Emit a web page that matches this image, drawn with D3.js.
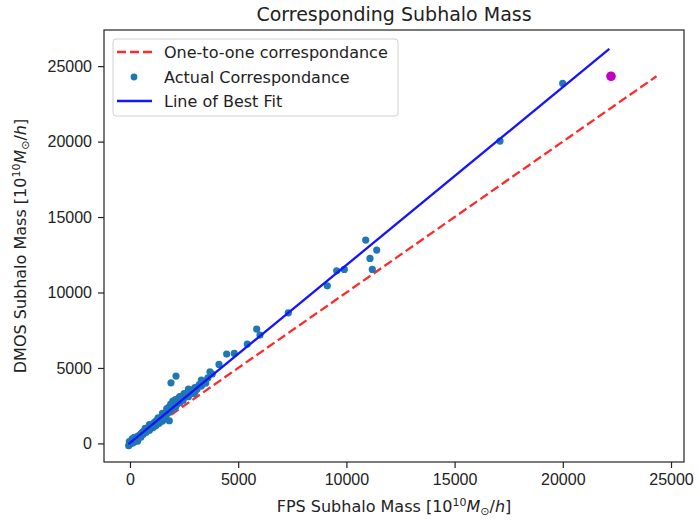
<!DOCTYPE html>
<html>
<head>
<meta charset="utf-8">
<script src="https://d3js.org/d3.v7.min.js"></script>
<style>
  body { margin: 0; background: white; }
  svg { font-family: "DejaVu Sans", sans-serif; }
  .axis text { font-size: 16px; fill: #222; }
  .axis path, .axis line { stroke: #222; stroke-width: 1.2; }
</style>
</head>
<body>
<div id="chart"></div>
<script>
// FPS subhalo mass (x) vs DMOS subhalo mass (y)
var fpsMass = [
  5, 12, 20, 30, 40, 50, 60, 70, 80, 95, 100, 110, 120, 130, 150, 160, 170, 180, 200, 210,
  230, 240, 260, 270, 280, 300, 320, 340, 350, 370, 390, 400, 420, 440, 460, 480, 500,
  -60, -30, 60, 150, 300, 450, 600, 750, 900, 1050, 1200, 1350, 1500, 1650,
  100, 200, 350, 500, 700, 900, 1100, 1300, 1500, 1700, 2100, 2300, 2500, 2700, 3000, 3300,
  520, 550, 580, 600, 630, 650, 680, 700, 720, 750, 780, 800, 830, 860, 880, 900, 930, 960, 980,
  1000, 1030, 1060, 1100, 1120, 1150, 1180, 1200, 1230, 1260, 1300, 1320, 1350, 1380, 1400, 1430,
  1460, 1500,
  1520, 1550, 1580, 1600, 1650, 1680, 1700, 1750, 1780, 1800, 1816, 1850, 1880, 1900, 1950, 1980,
  2000, 2050, 2100, 2150, 2200, 2250, 2300, 2350, 2400, 2450, 2500,
  1895, 2126,
  2600, 2650, 2700, 2800, 2900, 2950, 3000, 3100, 3200, 3300, 3400, 3500, 3600, 3697, 3800,
  4113, 4467, 4820, 5420, 5855, 6007, 7315, 9118, 9552, 9903, 10892, 11091, 11197, 11400,
  17098, 19995
];
var dmosMass = [
  10, 30, -20, 60, 20, 80, 40, 110, 60, 150, 90, 30, 170, 120, 200, 140, 80, 230, 170, 260,
  300, 220, 340, 180, 400, 310, 420, 360, 260, 450, 480, 380, 520, 460, 560, 500, 620,
  -150, 120, 20, 140, 290, 440, 590, 740, 880, 1040, 1180, 1330, 1480, 1640,
  300, 400, 150, 400, 1000, 1250, 1100, 1700, 2000, 2300, 2400, 3100, 3300, 3600, 3400, 4200,
  560, 700, 640, 760, 690, 800, 820, 760, 900, 860, 950, 880, 1010, 980, 1080, 1000, 1120, 1100, 1200,
  1150, 1260, 1220, 1300, 1380, 1340, 1420, 1480, 1400, 1520, 1560, 1480, 1620, 1660, 1580, 1700,
  1750, 1690,
  1800, 1880, 1750, 1950, 2000, 1900, 2100, 2200, 2050, 2400, 1500, 2300, 2600, 2200, 2500, 2800,
  2400, 2650, 2900, 2550, 2750, 3000, 2700, 2900, 3100, 2850, 3050,
  4016, 4460,
  3200, 3350, 3100, 3450, 3550, 3300, 3700, 3600, 3900, 3800, 4100, 4000, 4350, 4745, 4600,
  5235, 5918, 5964, 6580, 7574, 7177, 8655, 10444, 11438, 11530, 13472, 12260, 11530, 12810,
  20033, 23857
];
// the highlighted halo
var highlightX = [22227];
var highlightY = [24330];

var oneToOneX = [-70, 24330];
var oneToOneY = [-70, 24330];
var bestFitX = [-70, 22150];
var bestFitY = [-50, 26140];

var xTicks = [0, 5000, 10000, 15000, 20000, 25000];
var yTicks = [0, 5000, 10000, 15000, 20000, 25000];

var legendLabels = ["One-to-one correspondance", "Actual Correspondance", "Line of Best Fit"];

var W = 699, H = 520;
var margin = { top: 30, right: 15, bottom: 58, left: 104 },
    width = W - margin.left - margin.right,
    height = H - margin.top - margin.bottom;

var x = d3.scaleLinear().domain([-1201, 25600]).range([0, width]);
var y = d3.scaleLinear().domain([-1232, 27395]).range([height, 0]);

var svg = d3.select("#chart").append("svg")
    .attr("width", W)
    .attr("height", H);

var g = svg.append("g")
    .attr("transform", "translate(" + margin.left + "," + margin.top + ")");

var line = d3.line()
    .x(function (d) { return x(d[0]); })
    .y(function (d) { return y(d[1]); });

// one-to-one line (drawn first, points sit over it)
g.append("path")
    .datum(d3.zip(oneToOneX, oneToOneY))
    .attr("d", line)
    .attr("fill", "none")
    .attr("stroke", "#ff2a2a")
    .attr("stroke-width", 2.3)
    .attr("stroke-dasharray", "9,4");

var pts = d3.zip(fpsMass, dmosMass);
g.selectAll(".dot")
    .data(pts)
    .enter()
    .append("circle")
    .attr("class", "dot")
    .attr("cx", function (d) { return x(d[0]); })
    .attr("cy", function (d) { return y(d[1]); })
    .attr("r", 3.6)
    .attr("fill", "#1f77b4");

g.append("path")
    .datum(d3.zip(bestFitX, bestFitY))
    .attr("d", line)
    .attr("fill", "none")
    .attr("stroke", "#1414ff")
    .attr("stroke-width", 2.3);

g.selectAll(".hl")
    .data(d3.zip(highlightX, highlightY))
    .enter()
    .append("circle")
    .attr("class", "hl")
    .attr("cx", function (d) { return x(d[0]); })
    .attr("cy", function (d) { return y(d[1]); })
    .attr("r", 4.8)
    .attr("fill", "#c000c8");

// axes
g.append("g")
    .attr("class", "axis")
    .attr("transform", "translate(0," + height + ")")
    .call(d3.axisBottom(x).tickValues(xTicks).tickFormat(d3.format("d")).tickSize(6).tickPadding(6));

g.append("g")
    .attr("class", "axis")
    .call(d3.axisLeft(y).tickValues(yTicks).tickFormat(d3.format("d")).tickSize(6).tickPadding(6));

g.selectAll(".axis .domain").remove();
g.append("rect")
    .attr("width", width)
    .attr("height", height)
    .attr("fill", "none")
    .attr("stroke", "#222")
    .attr("stroke-width", 1.2);

// title and axis labels
svg.append("text")
    .attr("x", margin.left + width / 2)
    .attr("y", 21)
    .attr("text-anchor", "middle")
    .style("font-size", "19px")
    .style("fill", "#222")
    .text("Corresponding Subhalo Mass");

function unitLabel(sel, prefix) {
    sel.append("tspan").text(prefix + " [10");
    sel.append("tspan").attr("dy", -6).style("font-size", "11px").text("10");
    sel.append("tspan").attr("dy", 6).style("font-style", "italic").text("M");
    sel.append("tspan").attr("dy", 3).style("font-size", "11px").text("\u2299");
    sel.append("tspan").attr("dy", -3).text("/");
    sel.append("tspan").style("font-style", "italic").text("h");
    sel.append("tspan").text("]");
}

var xl = svg.append("text")
    .attr("x", margin.left + width / 2)
    .attr("y", 512)
    .attr("text-anchor", "middle")
    .style("font-size", "16px")
    .style("fill", "#222");
unitLabel(xl, "FPS Subhalo Mass");

var yl = svg.append("text")
    .attr("transform", "translate(26," + (margin.top + height / 2) + ") rotate(-90)")
    .attr("text-anchor", "middle")
    .style("font-size", "16px")
    .style("fill", "#222");
unitLabel(yl, "DMOS Subhalo Mass");

// legend
var lg = svg.append("g").attr("transform", "translate(113,39)");
lg.append("rect")
    .attr("width", 285)
    .attr("height", 77)
    .attr("rx", 3)
    .attr("fill", "white")
    .attr("fill-opacity", 0.85)
    .attr("stroke", "#d0d0d0");

var rowY = [13, 38, 62];
lg.append("line")
    .attr("x1", 4).attr("x2", 39).attr("y1", rowY[0]).attr("y2", rowY[0])
    .attr("stroke", "#ff2a2a").attr("stroke-width", 2.3).attr("stroke-dasharray", "9,4");
lg.append("circle")
    .attr("cx", 21).attr("cy", rowY[1]).attr("r", 3.4).attr("fill", "#1f77b4");
lg.append("line")
    .attr("x1", 4).attr("x2", 39).attr("y1", rowY[2]).attr("y2", rowY[2])
    .attr("stroke", "#1414ff").attr("stroke-width", 2.3);

lg.selectAll(".lt")
    .data(legendLabels)
    .enter()
    .append("text")
    .attr("class", "lt")
    .attr("x", 51)
    .attr("y", function (d, i) { return rowY[i]; })
    .attr("dy", "0.35em")
    .style("font-size", "16px")
    .style("fill", "#222")
    .text(function (d) { return d; });
</script>
</body>
</html>
